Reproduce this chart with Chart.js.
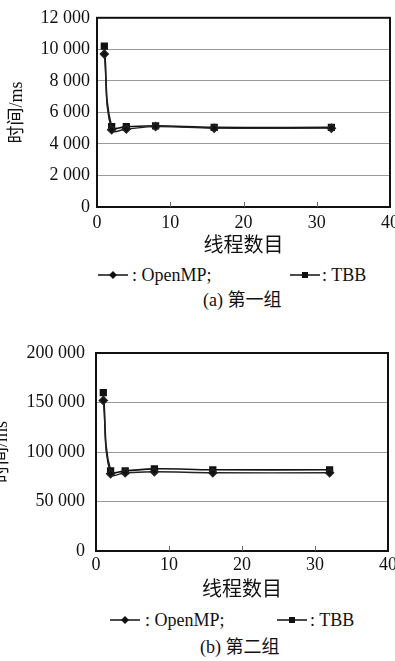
<!DOCTYPE html>
<html>
<head>
<meta charset="utf-8">
<script src="https://cdn.jsdelivr.net/npm/chart.js@4.4.0/dist/chart.umd.min.js"></script>
<style>
html, body { margin: 0; padding: 0; background: #fff; }
body { width: 395px; height: 661px; overflow: hidden; position: relative;
       font-family: "Liberation Serif", "Noto Sans CJK SC", serif; color: #111; }
.wrap { position: absolute; }
.txt { position: absolute; font-size: 18px; line-height: 20px; white-space: nowrap; }
.sym { position: absolute; }
</style>
</head>
<body>
<div class="wrap" style="left:0;top:0;width:405px;height:262px"><canvas id="chart-a"></canvas></div>
<div class="wrap" style="left:-12px;top:320px;width:417px;height:286px"><canvas id="chart-b"></canvas></div>

<svg class="sym" style="left:98px;top:269px" width="30" height="12"><line x1="0" y1="6" x2="30" y2="6" stroke="#111" stroke-width="1.5"/><polygon points="15,2 19,6 15,10 11,6" fill="#111"/></svg>
<span class="txt" style="left:132px;top:265px">: OpenMP;</span>
<svg class="sym" style="left:290px;top:269px" width="30" height="12"><line x1="0" y1="6" x2="30" y2="6" stroke="#111" stroke-width="1.5"/><rect x="12" y="3" width="6" height="6" fill="#111"/></svg>
<span class="txt" style="left:322px;top:265px">: TBB</span>
<span class="txt" style="left:203px;top:290px">(a) 第一组</span>

<svg class="sym" style="left:110px;top:614px" width="30" height="12"><line x1="0" y1="6" x2="30" y2="6" stroke="#111" stroke-width="1.5"/><polygon points="15,2 19,6 15,10 11,6" fill="#111"/></svg>
<span class="txt" style="left:145px;top:610px">: OpenMP;</span>
<svg class="sym" style="left:277px;top:614px" width="30" height="12"><line x1="0" y1="6" x2="30" y2="6" stroke="#111" stroke-width="1.5"/><rect x="12" y="3" width="6" height="6" fill="#111"/></svg>
<span class="txt" style="left:310px;top:610px">: TBB</span>
<span class="txt" style="left:200px;top:637px">(b) 第二组</span>

<script>
// thread counts on the x axis
const threads = [1, 2, 4, 8, 16, 32];

// group (a), time in ms
const openmpA = [9700, 4900, 4950, 5100, 5000, 5000];
const tbbA    = [10200, 5100, 5100, 5150, 5050, 5050];

// group (b), time in ms
const openmpB = [152000, 78000, 79000, 80000, 79000, 79000];
const tbbB    = [160000, 81000, 81000, 83000, 82000, 82000];

const xMax = 40, xStep = 10;
const yMaxA = 12000, yStepA = 2000;
const yMaxB = 200000, yStepB = 50000;

const SERIF = '"Liberation Serif", "Noto Sans CJK SC", serif';

function fmt(v) {
    return String(v).replace(/\B(?=(\d{3})+(?!\d))/g, ' ');
}

// plot frame + small inward ticks on the x axis
const frame = {
    id: 'frame',
    afterDraw(chart) {
        const { ctx, chartArea: a, scales: { x } } = chart;
        ctx.save();
        ctx.strokeStyle = '#111';
        ctx.lineWidth = 2;
        ctx.strokeRect(a.left, a.top, a.right - a.left, a.bottom - a.top);
        ctx.strokeStyle = '#666';
        ctx.lineWidth = 1;
        x.ticks.forEach(t => {
            if (t.value <= x.min || t.value >= x.max) return;
            const px = Math.round(x.getPixelForValue(t.value)) + 0.5;
            ctx.beginPath();
            ctx.moveTo(px, a.bottom);
            ctx.lineTo(px, a.bottom - 5);
            ctx.stroke();
        });
        ctx.restore();
    }
};

function makeChart(id, openmp, tbb, yMax, yStep, o) {
    const ctx = document.getElementById(id).getContext('2d');
    return new Chart(ctx, {
        type: 'line',
        data: {
            datasets: [
                {
                    label: 'OpenMP',
                    data: threads.map((t, i) => ({ x: t, y: openmp[i] })),
                    borderColor: '#222',
                    backgroundColor: '#111',
                    borderWidth: 1.4,
                    pointStyle: 'rectRot',
                    pointRadius: 4,
                    tension: 0.4,
                },
                {
                    label: 'TBB',
                    data: threads.map((t, i) => ({ x: t, y: tbb[i] })),
                    borderColor: '#111',
                    backgroundColor: '#111',
                    borderWidth: 1.6,
                    pointStyle: 'rect',
                    pointRadius: 4,
                    tension: 0.4,
                },
            ],
        },
        options: {
            responsive: true,
            maintainAspectRatio: false,
            animation: false,
            layout: { padding: { left: 0, right: o.padRight, top: o.padTop, bottom: 0 } },
            plugins: { legend: { display: false }, tooltip: { enabled: false } },
            scales: {
                x: {
                    type: 'linear',
                    min: 0, max: xMax,
                    ticks: { stepSize: xStep, color: '#111', padding: o.xTickPad,
                             font: { family: SERIF, size: 18, lineHeight: 1.2 } },
                    grid: { display: false, drawTicks: false },
                    border: { display: false },
                    title: { display: true, text: '线程数目', color: '#111',
                             padding: { top: 0, bottom: 3 },
                             font: { family: SERIF, size: 20, lineHeight: 1.2 } },
                    afterFit: s => { s.height = 55; },
                },
                y: {
                    min: 0, max: yMax,
                    ticks: { stepSize: yStep, color: '#111', padding: o.yTickPad,
                             callback: v => fmt(v),
                             font: { family: SERIF, size: 18, lineHeight: 1.2 } },
                    grid: { color: '#9a9a9a', lineWidth: 1, drawTicks: false },
                    border: { display: false },
                    title: { display: true, text: '时间/ms', color: '#111',
                             padding: { top: o.yTitlePad, bottom: 0 },
                             font: { family: SERIF, size: 18, lineHeight: 1.2 } },
                    afterFit: s => { s.width = o.yWidth; },
                },
            },
        },
        plugins: [frame],
    });
}

makeChart('chart-a', openmpA, tbbA, yMaxA, yStepA,
    { padRight: 15, padTop: 13, xTickPad: 5, yTickPad: 7, yTitlePad: 6, yWidth: 97 });
makeChart('chart-b', openmpB, tbbB, yMaxB, yStepB,
    { padRight: 17, padTop: 33, xTickPad: 3, yTickPad: 11, yTitlePad: 3, yWidth: 108 });
</script>
</body>
</html>
